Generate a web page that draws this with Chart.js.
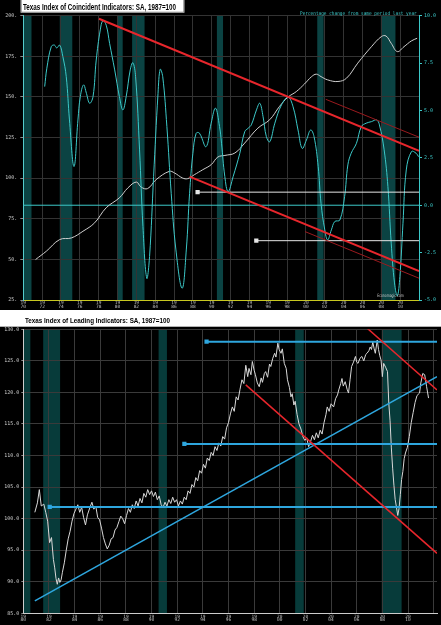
<!DOCTYPE html>
<html>
<head>
<meta charset="utf-8">
<script src="https://cdn.jsdelivr.net/npm/chart.js@4.4.1/dist/chart.umd.min.js"></script>
<style>
html, body { margin: 0; padding: 0; background: #fff; }
#wrap { position: relative; width: 441px; height: 625px; overflow: hidden; }
#top { position: absolute; left: 0; top: 0; width: 441px; height: 310px; }
#bot { position: absolute; left: 0; top: 310px; width: 441px; height: 315px; }
</style>
</head>
<body>
<div id="wrap">
    <div id="top"><canvas id="coinChart"></canvas></div>
    <div id="bot"><canvas id="leadChart"></canvas></div>
</div>
<script>
// recession periods, decimal years
const recessions = [[1969.95, 1970.87], [1973.87, 1975.2], [1980.0, 1980.55], [1981.55, 1982.87],
    [1990.55, 1991.2], [2001.2, 2001.87], [2007.95, 2009.5]];

const topYearTicks = [1970, 1972, 1974, 1976, 1978, 1980, 1982, 1984, 1986, 1988, 1990,
    1992, 1994, 1996, 1998, 2000, 2002, 2004, 2006, 2008, 2010, 2012];
const bottomYearTicks = [1980, 1982, 1984, 1986, 1988, 1990, 1992, 1994, 1996, 1998, 2000,
    2002, 2004, 2006, 2008, 2010, 2012];

// coincident index level (left axis)
const coinLevel = [[1971.3, 49.9], [1972.44, 55], [1973.86, 62.2], [1975.1, 63.2], [1976.33, 67.3],
    [1977.57, 72.5], [1978.8, 81.8], [1980.2, 87.9], [1981.1, 94], [1982.0, 97.6], [1982.5, 94.5],
    [1983.2, 93.6], [1984.1, 99.1], [1985.5, 104.2], [1986.05, 103.2], [1986.9, 100.1], [1987.45, 99.7],
    [1988.15, 102.1], [1989.05, 105.2], [1989.94, 108.3], [1990.65, 113.0], [1991.4, 114], [1992.46, 115.5],
    [1993.5, 121.6], [1994.9, 130.8], [1996.16, 136], [1997.2, 144.2], [1998.1, 149.9], [1998.98, 153.3],
    [1999.85, 158], [2000.6, 162.5], [2001.1, 164], [2001.6, 162.5], [2002.3, 160.5], [2003.4, 159.5],
    [2004.3, 161.5], [2005.5, 170.8], [2006.95, 180.9], [2008.0, 187.1], [2008.5, 187.5], [2009.05, 183],
    [2009.7, 177.9], [2010.4, 180.9], [2011.2, 184.5], [2011.8, 186.1]];

// percentage change from a year earlier (right axis)
const coinPct = [[1972.27, 6.26], [1972.5, 7.23], [1972.97, 8.37], [1973.3, 8.45], [1973.55, 8.3],
    [1973.86, 8.45], [1974.2, 7.84], [1974.56, 6.78], [1974.9, 4.5], [1975.38, 2.04], [1975.8, 4.5],
    [1976.05, 5.73], [1976.4, 6.35], [1976.7, 5.9], [1977.04, 5.38], [1977.4, 5.73], [1977.74, 7.66],
    [1978.17, 9.25], [1978.45, 9.74], [1978.8, 9.5], [1979.16, 8.54], [1979.7, 7.14], [1980.2, 5.73],
    [1980.57, 5.03], [1980.92, 5.73], [1981.35, 7.14], [1981.63, 7.52], [1981.92, 6.78], [1982.34, 2.92],
    [1982.7, -1.13], [1983.1, -3.85], [1983.4, -2.71], [1983.83, 1.51], [1984.3, 5.9], [1984.53, 7.17],
    [1984.8, 6.78], [1985.24, 4.15], [1985.7, 0.63], [1986.2, -2.36], [1986.86, -4.38], [1987.3, -2.36],
    [1987.65, 0.63], [1988.0, 2.74], [1988.35, 3.8], [1988.7, 3.8], [1989.4, 3.09], [1989.94, 4.33],
    [1990.4, 5.12], [1990.83, 4.15], [1991.04, 3.27], [1991.39, 1.51], [1991.74, 0.72], [1992.27, 1.51],
    [1992.98, 2.74], [1993.5, 3.88], [1993.86, 4.06], [1994.2, 4.24], [1994.75, 5.03], [1995.1, 5.38],
    [1995.45, 4.67], [1995.8, 3.62], [1996.16, 3.35], [1996.7, 4.33], [1997.4, 5.29], [1998.1, 5.7],
    [1998.63, 5.2], [1999.16, 3.97], [1999.6, 3.0], [2000.05, 3.44], [2000.5, 3.97], [2000.86, 3.62],
    [2001.3, 2.04], [2001.6, 0.1], [2002.0, -1.3], [2002.3, -1.83], [2002.7, -1.3], [2003.06, -0.86],
    [2003.6, -0.78], [2004.1, 0.45], [2004.45, 2.13], [2004.8, 2.74], [2005.36, 3.27], [2005.88, 4.15],
    [2006.4, 4.33], [2006.95, 4.41], [2007.5, 4.5], [2007.8, 4.24], [2008.3, 2.92], [2008.7, 0.98],
    [2009.05, -2.0], [2009.4, -4.1], [2009.7, -4.78], [2009.97, -3.77], [2010.3, -0.95], [2010.65, 1.86],
    [2011.2, 2.83], [2011.7, 2.74], [2011.95, 2.56]];

// trend lines drawn on the coincident chart (percent units)
const coinRedThick = [[[1978.03, 9.84], [2012, 2.87]], [[1987.65, 1.51], [2012, -3.48]]];
const coinRedThin = [[[2002.1, 5.59], [2012, 3.59]], [[1999.9, -1.39], [2012, -3.85]]];
const coinLevels = [[1988.5, 0.69], [1994.73, -1.87]];

// leading index
const leadIndex = [[1980.9, 101.0], [1981.1, 102.5], [1981.25, 104.6], [1981.4, 102.0], [1981.6, 102.3],
    [1981.75, 101.0], [1981.9, 99.6], [1982.05, 96.2], [1982.2, 97.0], [1982.35, 93.5], [1982.45, 92.2],
    [1982.55, 90.5], [1982.65, 89.6], [1982.75, 90.6], [1982.85, 89.9], [1982.95, 90.3], [1983.05, 91.5],
    [1983.2, 93.0], [1983.35, 95.0], [1983.5, 96.8], [1983.65, 98.0], [1983.8, 99.6], [1983.95, 100.8],
    [1984.1, 101.5], [1984.25, 102.2], [1984.4, 101.0], [1984.55, 101.8], [1984.7, 100.2], [1984.85, 99.0],
    [1985.0, 100.6], [1985.2, 101.8], [1985.35, 102.6], [1985.5, 101.5], [1985.65, 102.0], [1985.8, 100.2],
    [1985.95, 99.8], [1986.1, 98.5], [1986.25, 97.0], [1986.4, 96.0], [1986.55, 95.2], [1986.7, 95.8],
    [1986.85, 96.8], [1987.0, 97.0], [1987.15, 98.2], [1987.3, 98.6], [1987.45, 99.5], [1987.6, 100.4],
    [1987.75, 100.0], [1987.9, 99.2], [1988.05, 100.5], [1988.2, 101.6], [1988.35, 101.0], [1988.5, 102.2],
    [1988.65, 101.6], [1988.8, 102.8], [1988.95, 102.0], [1989.1, 103.2], [1989.25, 102.5], [1989.4, 104.0],
    [1989.55, 103.4], [1989.7, 104.6], [1989.85, 103.8], [1990.0, 104.4], [1990.15, 103.5], [1990.3, 104.2],
    [1990.45, 103.0], [1990.6, 103.6], [1990.75, 102.2], [1990.9, 101.8], [1991.05, 102.6], [1991.2, 102.0],
    [1991.35, 103.0], [1991.5, 102.4], [1991.65, 103.4], [1991.8, 102.6], [1991.95, 103.0], [1992.1, 102.0],
    [1992.25, 102.8], [1992.4, 102.3], [1992.55, 103.4], [1992.7, 103.0], [1992.85, 104.4], [1993.0, 104.0],
    [1993.15, 105.4], [1993.3, 105.0], [1993.45, 106.5], [1993.6, 106.0], [1993.75, 107.6], [1993.9, 107.2],
    [1994.05, 108.6], [1994.2, 108.0], [1994.35, 109.6], [1994.5, 109.2], [1994.65, 110.5], [1994.8, 110.0],
    [1994.95, 111.4], [1995.1, 110.8], [1995.25, 112.0], [1995.4, 111.5], [1995.55, 113.0], [1995.7, 112.6],
    [1995.85, 114.4], [1996.0, 115.2], [1996.15, 116.6], [1996.3, 117.7], [1996.45, 117.0], [1996.6, 119.3],
    [1996.75, 118.8], [1996.9, 120.5], [1997.05, 122.0], [1997.2, 121.4], [1997.35, 124.3], [1997.5, 122.5],
    [1997.6, 123.8], [1997.75, 122.8], [1997.86, 124.9], [1998.0, 123.5], [1998.1, 122.8], [1998.25, 121.5],
    [1998.4, 120.9], [1998.55, 122.3], [1998.65, 121.6], [1998.8, 123.0], [1998.9, 123.3], [1999.05, 122.4],
    [1999.2, 124.5], [1999.3, 124.1], [1999.45, 125.4], [1999.6, 126.2], [1999.7, 125.6], [1999.85, 127.8],
    [1999.95, 126.8], [2000.1, 126.2], [2000.2, 126.9], [2000.35, 124.6], [2000.5, 123.8], [2000.6, 122.0],
    [2000.75, 120.8], [2000.87, 119.3], [2000.97, 119.8], [2001.1, 118.0], [2001.2, 118.6], [2001.35, 116.5],
    [2001.5, 115.0], [2001.65, 114.2], [2001.8, 113.0], [2001.95, 112.4], [2002.1, 112.8], [2002.25, 111.4],
    [2002.4, 112.2], [2002.55, 113.2], [2002.7, 112.5], [2002.85, 113.6], [2003.0, 112.8], [2003.15, 114.0],
    [2003.3, 113.4], [2003.45, 115.2], [2003.6, 116.5], [2003.7, 117.7], [2003.85, 117.0], [2004.0, 118.2],
    [2004.2, 117.7], [2004.35, 119.0], [2004.5, 119.6], [2004.6, 120.4], [2004.75, 121.4], [2004.85, 122.2],
    [2004.95, 121.0], [2005.1, 121.7], [2005.25, 120.5], [2005.36, 119.9], [2005.48, 122.0], [2005.6, 124.1],
    [2005.75, 124.8], [2005.9, 125.7], [2006.0, 124.8], [2006.1, 124.6], [2006.25, 125.4], [2006.4, 125.7],
    [2006.55, 125.0], [2006.7, 126.0], [2006.8, 126.2], [2006.95, 126.6], [2007.05, 127.2], [2007.15, 126.8],
    [2007.25, 128.0], [2007.35, 127.0], [2007.45, 126.2], [2007.6, 128.3], [2007.7, 126.8], [2007.8, 125.8],
    [2007.9, 125.1], [2008.0, 122.5], [2008.1, 124.6], [2008.25, 124.0], [2008.4, 123.3], [2008.5, 118.3],
    [2008.6, 115.5], [2008.7, 111.2], [2008.8, 108.0], [2008.9, 105.3], [2009.0, 103.0], [2009.1, 101.8],
    [2009.2, 100.5], [2009.3, 101.6], [2009.4, 103.8], [2009.5, 106.2], [2009.6, 107.5], [2009.7, 109.5],
    [2009.8, 110.4], [2009.95, 111.3], [2010.1, 113.0], [2010.25, 115.2], [2010.4, 116.8], [2010.55, 118.4],
    [2010.7, 119.5], [2010.9, 119.9], [2011.0, 121.5], [2011.15, 123.0], [2011.3, 122.8], [2011.45, 120.9],
    [2011.6, 119.1]];

const leadBlueTrend = [[1980.9, 86.96], [2012.26, 122.5]];
const leadBlueLevels = [[1982.06, 101.85], [1992.56, 111.83], [1994.29, 128.04]];
const leadRed = [[[1997.35, 121.2], [2012.26, 94.5]], [[2006.69, 130.4], [2012.26, 120.4]]];

const toXY = (pts) => pts.map(([x, y]) => ({ x, y }));

// black background, recession bands and the loose texts
const panelPlugin = {
    id: 'panel',
    beforeDraw(chart, args, opts) {
        const { ctx, chartArea, scales: { x } } = chart;
        ctx.save();
        ctx.fillStyle = '#000';
        ctx.fillRect(0, opts.blackTop, chart.width, chart.height - opts.blackTop);
        ctx.fillStyle = opts.bandColor;
        recessions.forEach(([a, b]) => {
            const x0 = Math.max(x.getPixelForValue(a), chartArea.left);
            const x1 = Math.min(x.getPixelForValue(b), chartArea.right);
            if (x1 > x0) ctx.fillRect(x0, chartArea.top, x1 - x0, chartArea.bottom - chartArea.top);
        });
        ctx.restore();
    },
    afterDraw(chart, args, opts) {
        const { ctx } = chart;
        ctx.save();
        (opts.texts || []).forEach(t => {
            if (t.box) {
                ctx.fillStyle = '#fff';
                ctx.fillRect(t.box[0], t.box[1], t.box[2], t.box[3]);
                ctx.strokeStyle = '#888';
                ctx.lineWidth = 1;
                ctx.strokeRect(t.box[0] + 0.5, t.box[1] - 0.5, t.box[2] - 1, t.box[3]);
            }
            ctx.font = t.font;
            ctx.fillStyle = t.color;
            ctx.textBaseline = 'alphabetic';
            ctx.textAlign = 'left';
            ctx.fillText(t.text, t.x, t.y, t.maxWidth);
        });
        ctx.restore();
    }
};

const tinyFont = { family: 'DejaVu Sans Mono', size: 5 };
const yearLabel = (v) => v >= 2012 ? '' : [String(v).slice(0, 2), String(v).slice(2)];

const lineSet = (pts, color, width, extra = {}) => ({
    data: toXY(pts),
    borderColor: color,
    borderWidth: width,
    pointRadius: 0,
    fill: false,
    ...extra
});

const levelSet = (start, endX, color, axis) => ({
    data: [{ x: start[0], y: start[1] }, { x: endX, y: start[1] }],
    borderColor: color,
    borderWidth: 1,
    pointRadius: [3, 0],
    pointStyle: 'rect',
    pointBackgroundColor: color,
    pointBorderWidth: 0,
    yAxisID: axis
});

const createCoincidentChart = () => {
    const ctx = document.getElementById('coinChart');
    const datasets = [
        ...coinRedThick.map(l => lineSet(l, '#e8262c', 2, { yAxisID: 'yR' })),
        ...coinRedThin.map(l => lineSet(l, '#9a1a1e', 1, { yAxisID: 'yR' })),
        ...coinLevels.map(l => levelSet(l, 2012, '#e6e6e6', 'yR')),
        lineSet(coinPct, '#3cc8c8', 1, { yAxisID: 'yR', tension: 0.4 }),
        lineSet(coinLevel, '#cfcfcf', 1, { yAxisID: 'yL', tension: 0.4 }),
        lineSet([[1970, 0], [2012, 0]], '#3cc8c8', 1, { yAxisID: 'yR' })
    ];

    return new Chart(ctx, {
        type: 'line',
        data: { datasets },
        plugins: [panelPlugin],
        options: {
            responsive: true,
            maintainAspectRatio: false,
            animation: false,
            layout: { padding: { top: 15.7, left: 0, right: 0, bottom: 0 } },
            plugins: {
                legend: { display: false },
                tooltip: { enabled: false },
                panel: {
                    blackTop: 0,
                    bandColor: '#0b4343',
                    texts: [
                        { text: 'Texas Index of Coincident Indicators: SA, 1987=100', x: 23, y: 10.3, maxWidth: 153,
                          font: 'bold 8.5px "Liberation Sans"', color: '#000', box: [20.7, 0, 163.6, 12.7] },
                        { text: 'Percentage change from same period last year', x: 300, y: 14.8, maxWidth: 116.7,
                          font: '5px "DejaVu Sans Mono"', color: '#3cc8c8' },
                        { text: 'Economagic.com', x: 377.3, y: 297.3, maxWidth: 26.4,
                          font: '4.5px "DejaVu Sans"', color: '#ccc' }
                    ]
                }
            },
            scales: {
                x: {
                    type: 'linear', min: 1970, max: 2012,
                    afterBuildTicks: (s) => { s.ticks = topYearTicks.map(v => ({ value: v })); },
                    afterFit: (s) => { s.height = 10; },
                    grid: { color: '#333', drawTicks: false },
                    border: { color: '#c8c820' },
                    ticks: { color: '#bbb', font: { ...tinyFont, size: 4.5, lineHeight: 0.8 }, padding: 1.5,
                             maxRotation: 0, autoSkip: false, callback: yearLabel }
                },
                yL: {
                    position: 'left', min: 25, max: 200,
                    afterFit: (s) => { s.width = 23.3; },
                    grid: { color: '#333', tickLength: 3, tickColor: '#888' },
                    border: { color: '#5cc' },
                    ticks: { stepSize: 25, color: '#ccc', font: tinyFont, padding: 3, callback: v => v + '.' }
                },
                yR: {
                    position: 'right', min: -5, max: 10,
                    afterFit: (s) => { s.width = 22; },
                    grid: { drawOnChartArea: false, tickLength: 3, tickColor: '#3cc8c8' },
                    border: { color: '#3cc8c8' },
                    ticks: { stepSize: 2.5, color: '#3cc8c8', font: tinyFont, padding: 2, callback: v => v.toFixed(1) }
                }
            }
        }
    });
};

const createLeadingChart = () => {
    const ctx = document.getElementById('leadChart');
    const datasets = [
        ...leadRed.map(l => lineSet(l, '#e8262c', 1.5)),
        ...leadBlueLevels.map(l => levelSet(l, 2012.26, '#2ea6de', 'y')),
        lineSet(leadBlueTrend, '#2ea6de', 1.5),
        lineSet(leadIndex, '#d8d8d8', 1)
    ];
    datasets.forEach(d => { if (d.yAxisID === undefined) d.yAxisID = 'y'; });
    datasets.filter(d => d.pointStyle === 'rect').forEach(d => { d.borderWidth = 2; });

    return new Chart(ctx, {
        type: 'line',
        data: { datasets },
        plugins: [panelPlugin],
        options: {
            responsive: true,
            maintainAspectRatio: false,
            animation: false,
            layout: { padding: { top: 19.3, left: 0, right: 0, bottom: 0 } },
            plugins: {
                legend: { display: false },
                tooltip: { enabled: false },
                panel: {
                    blackTop: 16.7,
                    bandColor: '#073b3a',
                    texts: [
                        { text: 'Texas Index of Leading Indicators: SA, 1987=100', x: 25, y: 12.7, maxWidth: 145,
                          font: 'bold 8px "Liberation Sans"', color: '#000' }
                    ]
                }
            },
            scales: {
                x: {
                    type: 'linear', min: 1980, max: 2012.26,
                    afterBuildTicks: (s) => { s.ticks = bottomYearTicks.map(v => ({ value: v })); },
                    afterFit: (s) => { s.height = 11.7; },
                    grid: { color: '#3a3a3a', drawTicks: false },
                    border: { color: '#ccc' },
                    ticks: { color: '#bbb', font: { ...tinyFont, size: 4.5, lineHeight: 0.8 }, padding: 1.5,
                             maxRotation: 0, autoSkip: false, callback: yearLabel }
                },
                y: {
                    position: 'left', min: 85, max: 130,
                    afterFit: (s) => { s.width = 23.3; },
                    grid: { color: '#3a3a3a', tickLength: 2, tickColor: '#888' },
                    border: { color: '#ccc' },
                    ticks: { stepSize: 5, color: '#ccc', font: tinyFont, padding: 2, callback: v => v.toFixed(1) }
                }
            }
        }
    });
};

createCoincidentChart();
createLeadingChart();
</script>
</body>
</html>
